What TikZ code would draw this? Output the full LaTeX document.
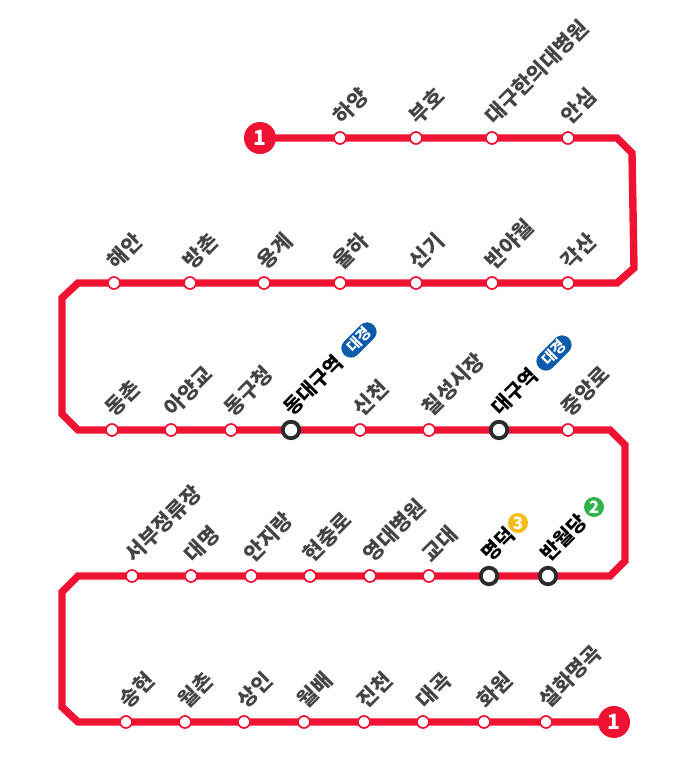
\documentclass[tikz,border=0pt]{standalone}
\usepackage{fontspec}
\setmainfont{Noto Sans CJK KR}
\usetikzlibrary{calc}
\definecolor{linered}{HTML}{F01233}
\definecolor{lbl}{HTML}{444444}
\definecolor{ring}{HTML}{2B2B2B}
\definecolor{dkblue}{HTML}{0B5BAA}
\definecolor{ylw}{HTML}{F6BD16}
\definecolor{grn}{HTML}{2FB54A}
\tikzset{
  x=1pt,y=-1pt,
  stop/.style={circle,draw=linered,fill=white,line width=1.7pt,minimum size=12pt,inner sep=0pt},
  hub/.style={circle,draw=ring,fill=white,line width=3.8pt,minimum size=16.5pt,inner sep=0pt},
  lab/.style={rotate=45,anchor=south west,inner sep=0pt,font=\bfseries\fontsize{21}{21}\selectfont,text=lbl},
  hublab/.style={lab,font=\bfseries\fontsize{20}{20}\selectfont,text=black},
  term/.style={circle,fill=linered,minimum size=32pt,inner sep=0pt,text=white,font=\bfseries\fontsize{21}{21}\selectfont},
  pill/.style={rounded corners=9.5pt,fill=dkblue,minimum width=42pt,minimum height=19pt,inner sep=0pt,rotate=45,text=white,font=\bfseries\fontsize{15}{15}\selectfont},
  badge/.style={circle,minimum size=20pt,inner sep=0pt,text=white,font=\bfseries\fontsize{17}{17}\selectfont},
  route/.style={draw=linered,line width=7.4pt,line join=miter}
}
\newcommand{\stn}[4]{\node[stop] (s#1) at (#2,#3) {};
  \node[lab] (t#1) at ($(#2,#3)+(4,-11)$) {#4};}
\newcommand{\hubstn}[4]{\node[hub] (s#1) at (#2,#3) {};
  \node[hublab] (t#1) at ($(#2,#3)+(3,-12)$) {#4};}
\begin{document}
\begin{tikzpicture}
\useasboundingbox (0,0) rectangle (693,766);
\coordinate (start) at (260,138);
\coordinate (end) at (614,722);
\coordinate (c1) at (617,138);\coordinate (c2) at (632,153);\coordinate (c3) at (634,268);\coordinate (c4) at (617,283);
\coordinate (c5) at (78,283);\coordinate (c6) at (62,298);\coordinate (c7) at (62,414);\coordinate (c8) at (78,430);
\coordinate (c9) at (610,430);\coordinate (c10) at (625,445);\coordinate (c11) at (625,561);\coordinate (c12) at (610,576);
\coordinate (c13) at (78,576);\coordinate (c14) at (62,592);\coordinate (c15) at (62,707);\coordinate (c16) at (78,722);
\draw[route] (start) -- (c1) -- (c2) -- (c3) -- (c4) -- (c5) -- (c6) -- (c7) -- (c8) -- (c9) -- (c10) -- (c11) -- (c12) -- (c13) -- (c14) -- (c15) -- (c16) -- (end);
\node[term] (startb) at (start) {1};
\node[term] (endb) at (end) {1};
\stn{a1}{340}{138}{하양}
\stn{a2}{416}{138}{부호}
\stn{a3}{492}{138}{대구한의대병원}
\stn{a4}{568}{138}{안심}
\stn{b1}{114}{283}{해안}
\stn{b2}{190}{283}{방촌}
\stn{b3}{264}{283}{용계}
\stn{b4}{340}{283}{율하}
\stn{b5}{416}{283}{신기}
\stn{b6}{492}{283}{반야월}
\stn{b7}{568}{283}{각산}
\stn{c1}{112}{430}{동촌}
\stn{c2}{171}{430}{아양교}
\stn{c3}{231}{430}{동구청}
\hubstn{c4}{291}{430}{동대구역}
\stn{c5}{360}{430}{신천}
\stn{c6}{429}{430}{칠성시장}
\hubstn{c7}{499}{430}{대구역}
\stn{c8}{568}{430}{중앙로}
\stn{d1}{132}{576}{서부정류장}
\stn{d2}{191}{576}{대명}
\stn{d3}{251}{576}{안지랑}
\stn{d4}{310}{576}{현충로}
\stn{d5}{370}{576}{영대병원}
\stn{d6}{429}{576}{교대}
\hubstn{d7}{489}{576}{명덕}
\hubstn{d8}{548}{576}{반월당}
\stn{e1}{126}{722}{송현}
\stn{e2}{185}{722}{월촌}
\stn{e3}{244}{722}{상인}
\stn{e4}{304}{722}{월배}
\stn{e5}{364}{722}{진천}
\stn{e6}{423}{722}{대곡}
\stn{e7}{484}{722}{화원}
\stn{e8}{546}{722}{설화명곡}
\node[pill] (p1) at (359,340) {대경};
\node[pill] (p2) at (554,353) {대경};
\node[badge,fill=ylw] (y3) at (518,523) {3};
\node[badge,fill=grn] (g2) at (594,507) {2};
\end{tikzpicture}
\end{document}
